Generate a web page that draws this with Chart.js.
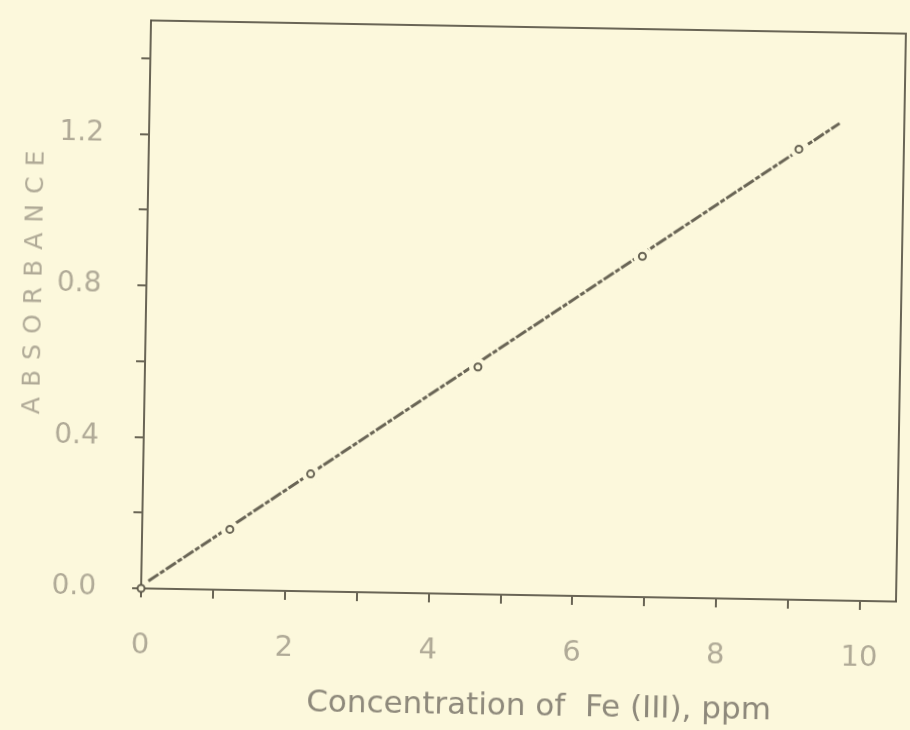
<!DOCTYPE html>
<html>
<head>
<meta charset="utf-8">
<title>Absorbance vs Fe(III) concentration</title>
<script src="https://cdn.jsdelivr.net/npm/chart.js@4"></script>
<style>
  html, body { margin: 0; padding: 0; background: #fcf8dc; overflow: hidden; }
  #wrap { width: 910px; height: 730px; }
  /* the printed plot sits a little askew on the page */
  #chart { transform: rotate(1deg); transform-origin: 523px 311px; }
</style>
</head>
<body>
<div id="wrap"><canvas id="chart" width="910" height="730"></canvas></div>
<script>
// calibration points: Fe(III) concentration (ppm) vs absorbance
const concPpm = [0, 1.22, 2.33, 4.63, 6.89, 9.04];
const absorbance = [0, 0.16, 0.31, 0.60, 0.90, 1.19];

// ends of the fitted straight line
const fitConc = [0.1, 9.6];
const fitAbs = [0.02, 1.26];

// tick positions and the labels printed at them
const xTicks = [0, 1, 2, 3, 4, 5, 6, 7, 8, 9, 10];
const xTickLabels = ["0", "", "2", "", "4", "", "6", "", "8", "", "10"];
const yTicks = [0, 0.2, 0.4, 0.6, 0.8, 1.0, 1.2, 1.4];
const yTickLabels = ["0.0", "", "0.4", "", "0.8", "", "1.2", ""];

const xTitle = "Concentration of  Fe (III), ppm";
const yTitle = "ABSORBANCE";

// --- colours ---
const paper = "#fcf8dc";
const ink = "rgba(84, 80, 66, 0.88)";
const faint = "#b0aa97";
const titleInk = "#8e897b";
const fontFamily = "'DejaVu Sans', sans-serif";

const points = concPpm.map((x, i) => ({ x, y: absorbance[i] }));
const fitLine = fitConc.map((x, i) => ({ x, y: fitAbs[i] }));

// top/right edges of the box plus both axis titles
const framePlugin = {
  id: "frame",
  afterDraw(chart) {
    const { ctx, chartArea: a } = chart;
    ctx.save();
    ctx.strokeStyle = ink;
    ctx.lineWidth = 2;
    ctx.beginPath();
    ctx.moveTo(a.left, a.top);
    ctx.lineTo(a.right, a.top);
    ctx.lineTo(a.right, a.bottom);
    ctx.stroke();

    ctx.fillStyle = titleInk;
    ctx.textBaseline = "middle";
    ctx.textAlign = "center";
    ctx.font = "31px " + fontFamily;
    ctx.fillText(xTitle, (a.left + a.right) / 2 + 22, a.bottom + 112);

    // vertical title with spaced-out capitals
    ctx.translate(34, (a.top + a.bottom) / 2 - 20);
    ctx.rotate(-Math.PI / 2);
    ctx.font = "25px " + fontFamily;
    ctx.fillStyle = faint;
    ctx.textAlign = "left";
    const gap = 10;
    const letters = [...yTitle];
    const widths = letters.map(c => ctx.measureText(c).width);
    const total = widths.reduce((s, w) => s + w, 0) + gap * (letters.length - 1);
    let pos = -total / 2;
    letters.forEach((c, i) => {
      ctx.fillText(c, pos, 0);
      pos += widths[i] + gap;
    });
    ctx.restore();
  }
};

const axisCommon = {
  type: "linear",
  grid: { drawOnChartArea: false, drawTicks: true, tickLength: 9, color: ink, lineWidth: 2 },
  border: { display: true, color: ink, width: 2 },
  title: { display: false }
};

new Chart(document.getElementById("chart"), {
  type: "scatter",
  data: {
    datasets: [
      {
        label: "fit",
        data: fitLine,
        showLine: true,
        borderColor: ink,
        borderWidth: 3,
        borderDash: [12, 2, 5, 2],
        pointRadius: 0,
        order: 3
      },
      {
        // clears a small gap in the line around each point
        label: "gap",
        data: points,
        pointRadius: c => (c.raw && c.raw.x === 0 ? 0 : 9),
        pointBorderWidth: 0,
        pointBackgroundColor: paper,
        order: 2
      },
      {
        label: "Absorbance",
        data: points,
        pointRadius: 3.5,
        pointBorderWidth: 2,
        pointBorderColor: ink,
        pointBackgroundColor: paper,
        clip: false,
        order: 1
      }
    ]
  },
  options: {
    responsive: false,
    animation: false,
    devicePixelRatio: 1,
    layout: { padding: { top: 27, right: 9, left: 0, bottom: 0 } },
    plugins: {
      legend: { display: false },
      tooltip: { enabled: false }
    },
    scales: {
      x: {
        ...axisCommon,
        min: 0,
        max: 10.5,
        afterBuildTicks: s => { s.ticks = xTicks.map(v => ({ value: v })); },
        // fixed axis band; labels are allowed to hang over the ends
        afterFit: s => { s.height = 135; s.paddingLeft = 0; s.paddingRight = 0; },
        ticks: {
          callback: (v, i) => xTickLabels[i],
          color: faint,
          font: { family: fontFamily, size: 29 },
          padding: 31,
          maxRotation: 0,
          autoSkip: false
        }
      },
      y: {
        ...axisCommon,
        min: 0,
        max: 1.5,
        afterBuildTicks: s => { s.ticks = yTicks.map(v => ({ value: v })); },
        afterFit: s => { s.width = 146; s.paddingTop = 0; s.paddingBottom = 0; },
        ticks: {
          callback: (v, i) => yTickLabels[i],
          color: faint,
          font: { family: fontFamily, size: 28 },
          padding: 36,
          autoSkip: false
        }
      }
    }
  },
  plugins: [framePlugin]
});
</script>
</body>
</html>
